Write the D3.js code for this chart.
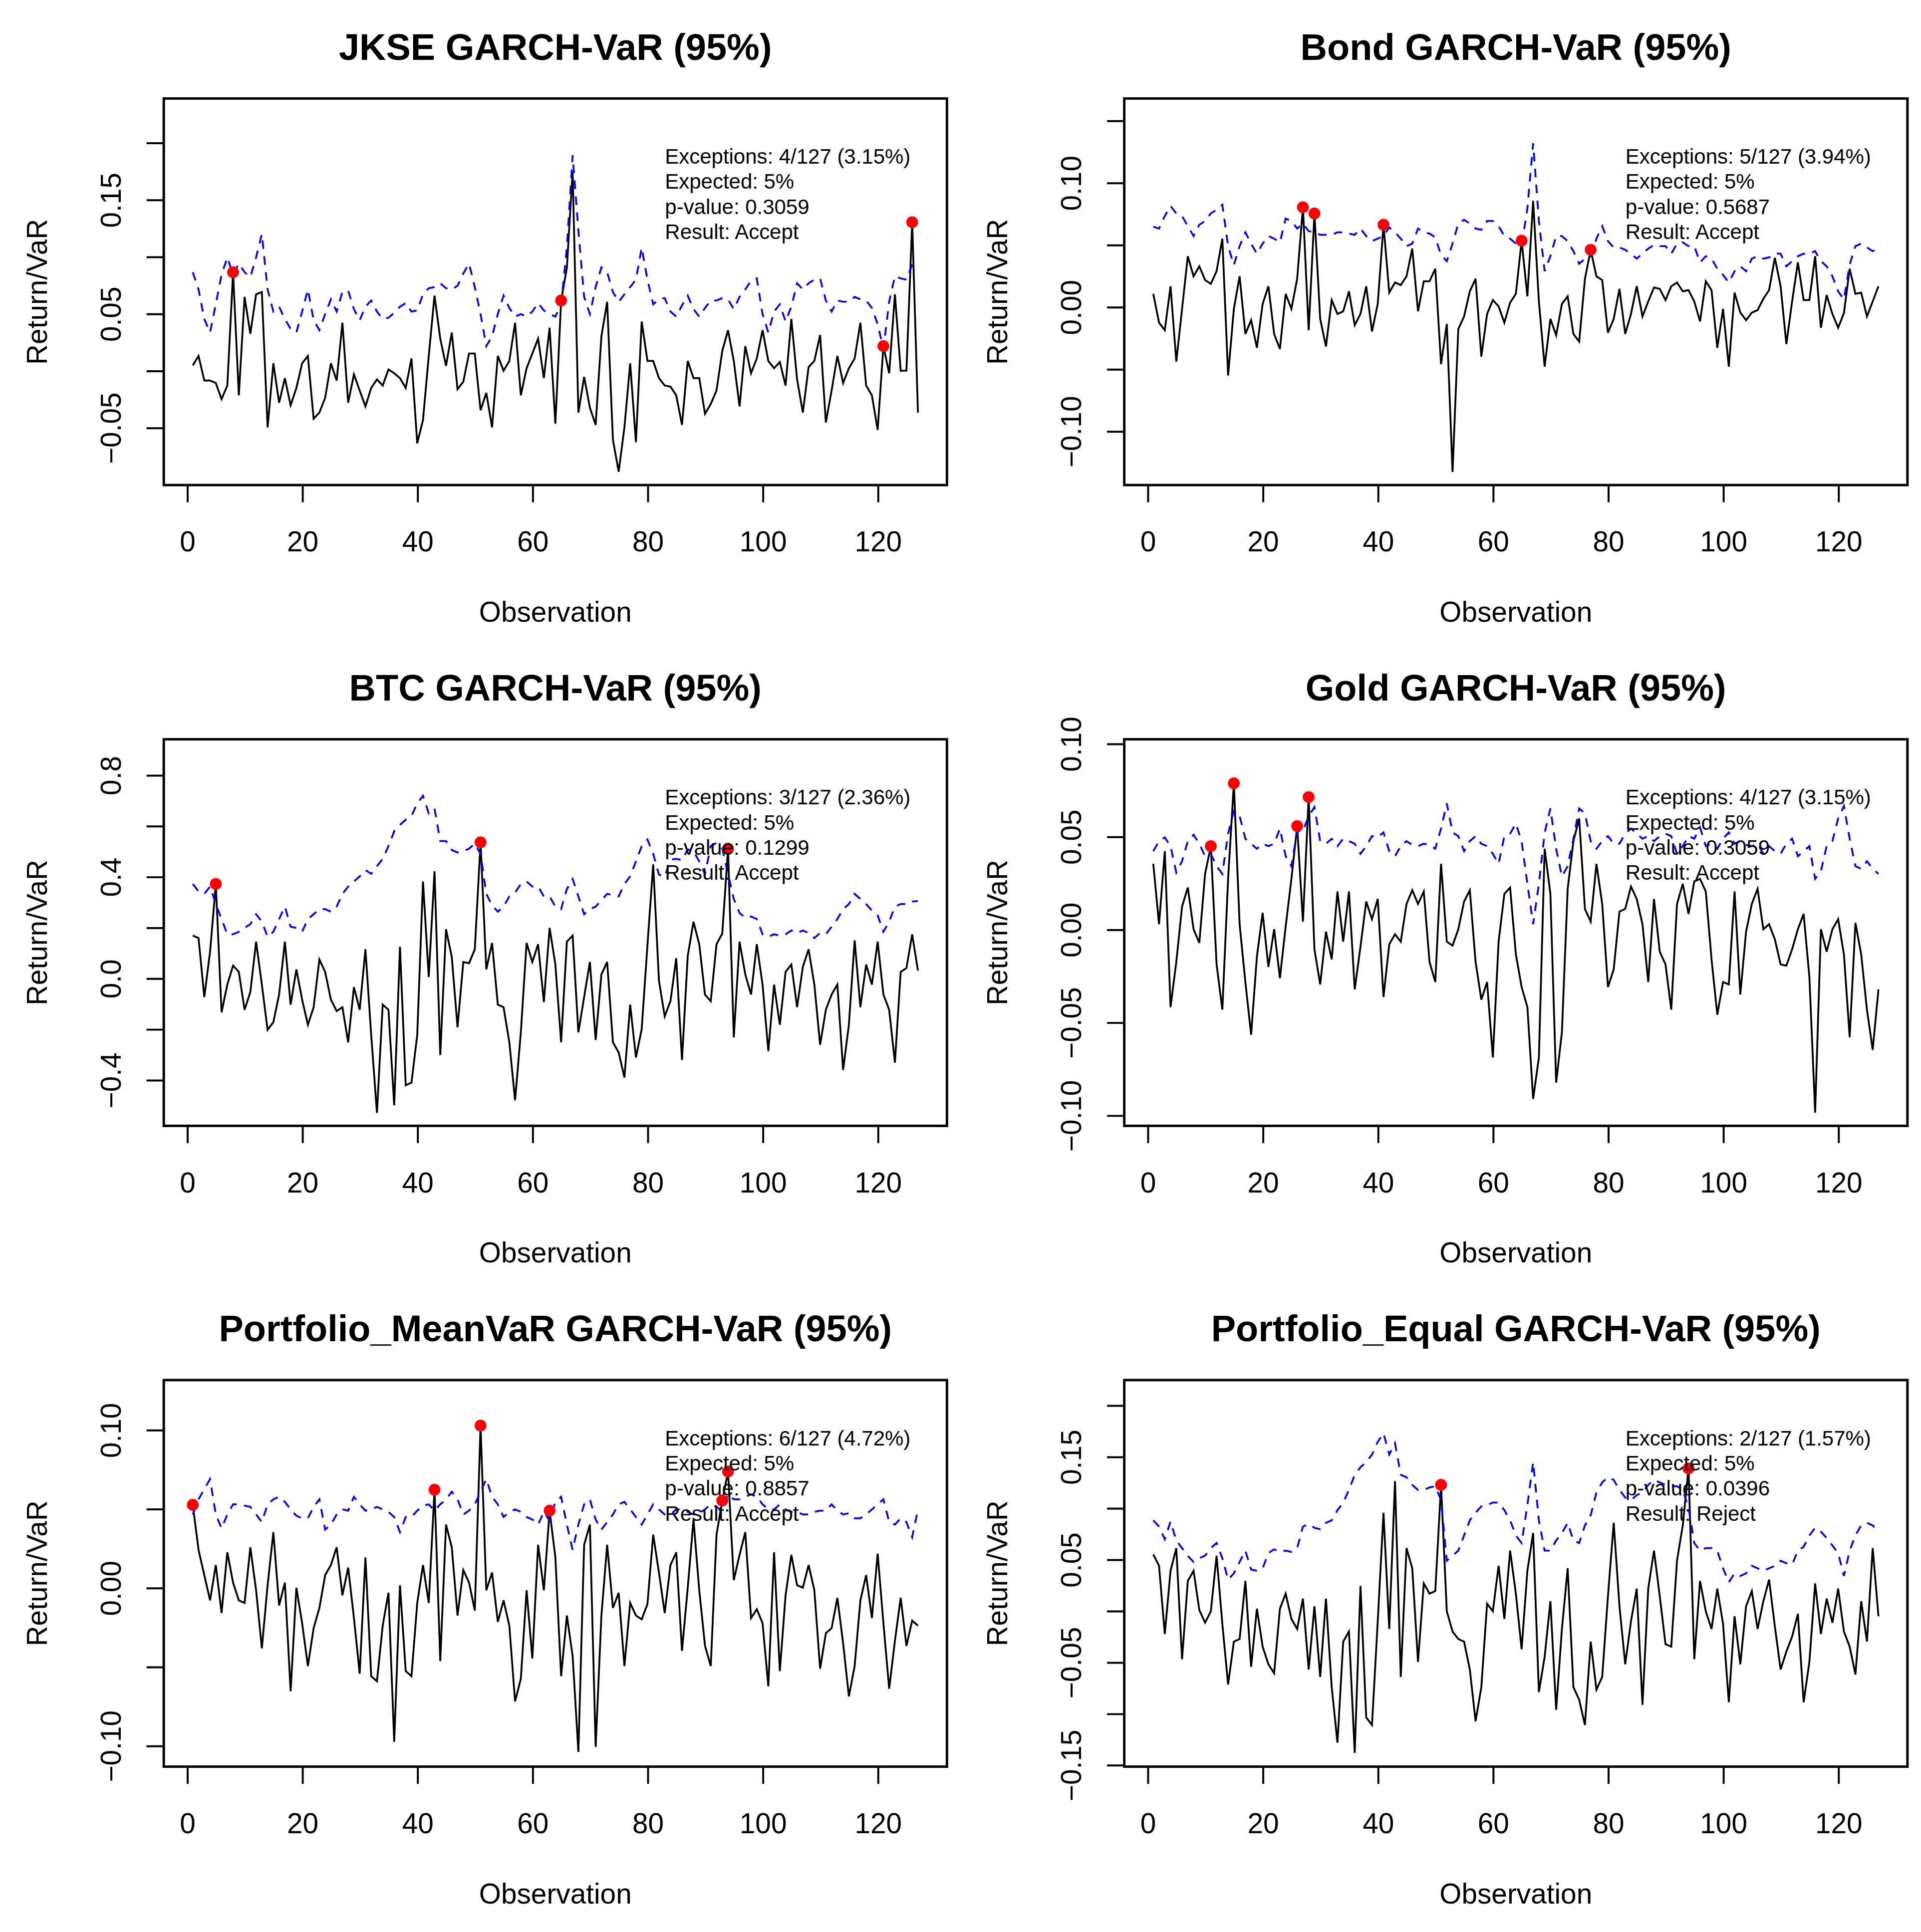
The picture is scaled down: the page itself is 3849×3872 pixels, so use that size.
<!DOCTYPE html>
<html>
<head>
<meta charset="utf-8">
<script src="https://cdn.jsdelivr.net/npm/d3@7"></script>
<style>
body{margin:0;background:#fff;}
</style>
</head>
<body>
<svg id="chart"></svg>
<script>
const FONT='"Liberation Sans", Arial, sans-serif';

// observation index (x axis)
let obs=d3.range(1,128);
let xTicks=[0,20,40,60,80,100,120];

// ---- JKSE ----
let jkseRet=[0.0046,0.0129,-0.0087,-0.0087,-0.0109,-0.025,-0.0131,0.0863,-0.0217,0.0647,
0.0323,0.0669,0.069,-0.0498,0.0064,-0.0282,-0.0066,-0.0304,-0.0152,0.0064,
0.0129,-0.0422,-0.0368,-0.0239,0.0064,-0.0087,0.042,-0.0282,-0.0033,-0.0174,
-0.0314,-0.0152,-0.0077,-0.0131,0.001,-0.0023,-0.0066,-0.0152,0.0107,-0.0638,
-0.0433,0.0129,0.0658,0.028,0.0042,0.0334,-0.0163,-0.0098,0.015,0.015,
-0.0347,-0.0195,-0.0498,0.0129,-0.0001,0.0085,0.042,-0.0217,0.0021,0.015,
0.028,-0.0066,0.0377,-0.0466,0.0615,0.09,0.1749,-0.0368,-0.0055,-0.0325,
-0.0476,0.0301,0.0604,-0.0606,-0.0887,-0.0498,0.0064,-0.0628,0.0431,0.0085,
0.0085,-0.0066,-0.0131,-0.0141,-0.0217,-0.0476,0.0085,-0.0066,-0.0066,-0.0379,
-0.0293,-0.0174,0.0172,0.0355,0.0085,-0.0314,0.0215,-0.0023,0.0107,0.0355,
0.0085,0.0021,0.0075,-0.0131,0.0453,-0.0077,-0.0368,0.0031,0.0085,0.0312,
-0.0455,-0.0174,0.0129,-0.0109,0.0021,0.0107,0.042,-0.0131,-0.0217,-0.052,
0.0215,-0.0023,0.0669,-0.0001,0.0,0.1302,-0.0368];
let jkseVar=[0.0863,0.0712,0.0453,0.0334,0.0582,0.0842,0.0993,0.084,0.0939,0.0863,
0.082,0.0993,0.1198,0.0712,0.0518,0.0561,0.0453,0.0366,0.0334,0.0518,
0.0712,0.0442,0.0355,0.0496,0.0625,0.0518,0.069,0.0701,0.0539,0.0442,
0.0561,0.0615,0.0518,0.0453,0.0464,0.0507,0.0561,0.0593,0.0518,0.0528,
0.0669,0.0723,0.0733,0.0766,0.0723,0.0712,0.0744,0.0852,0.0939,0.0733,
0.0496,0.0215,0.0301,0.0496,0.0658,0.055,0.0474,0.0496,0.0474,0.0518,
0.0593,0.0528,0.0496,0.0474,0.058,0.1079,0.1889,0.1231,0.0647,0.0496,
0.0733,0.0906,0.0863,0.069,0.0604,0.0669,0.0733,0.0798,0.1079,0.0798,
0.0582,0.0625,0.0636,0.0518,0.0474,0.0572,0.0658,0.0539,0.0474,0.055,
0.0615,0.0615,0.0636,0.0625,0.0539,0.0647,0.0712,0.0788,0.0809,0.0496,
0.0334,0.0518,0.0582,0.0431,0.0561,0.0766,0.0712,0.0766,0.0798,0.0809,
0.0615,0.0518,0.0615,0.0604,0.0604,0.0647,0.0625,0.0615,0.055,0.0409,
0.019,0.0604,0.083,0.0809,0.0798,0.0928,0.0939];
let jkseExc=[8,65,121,126];
let jkseStats=["Exceptions: 4/127 (3.15%)","Expected: 5%","p-value: 0.3059","Result: Accept"];

// ---- Bond ----
let bondRet=[0.0105,-0.0127,-0.0188,0.0166,-0.044,-0.0016,0.0408,0.0246,0.0327,0.0216,
0.0186,0.0287,0.0549,-0.0552,-0.0016,0.0246,-0.0218,-0.0107,-0.0329,0.0024,
0.0166,-0.0218,-0.0339,0.0105,-0.0016,0.0226,0.0802,-0.0188,0.0752,-0.0097,
-0.0319,0.0055,-0.0057,-0.0036,0.0125,-0.0147,-0.0057,0.0166,-0.0198,0.0024,
0.0661,0.0115,0.0196,0.0176,0.0246,0.0469,-0.0036,0.0206,0.0206,0.0307,
-0.0461,-0.0137,-0.1329,-0.0178,-0.0077,0.0125,0.0226,-0.04,-0.0057,0.0055,
0.0004,-0.0127,0.0034,0.0105,0.0533,0.0085,0.0853,0.0044,-0.0481,-0.0097,
-0.0228,0.0024,0.0085,-0.0218,-0.0279,0.0226,0.0459,0.0246,0.0216,-0.0208,
-0.0097,0.0145,-0.0218,-0.0057,0.0166,-0.0077,0.0044,0.0156,0.0145,0.0055,
0.0166,0.0196,0.0125,0.0135,0.0044,-0.0117,0.0206,0.0135,-0.0329,-0.0016,
-0.0481,0.0115,-0.0046,-0.0107,-0.0046,-0.0026,0.0065,0.0135,0.0395,0.0166,
-0.0299,0.0044,0.0358,0.0055,0.0055,0.0408,-0.0168,0.0095,-0.0057,-0.0168,
-0.005,0.0307,0.0105,0.0115,-0.0077,0.0044,0.0166];
let bondVar=[0.0646,0.063,0.0731,0.0812,0.0752,0.0731,0.065,0.057,0.0661,0.0691,
0.0752,0.0782,0.0822,0.0489,0.0337,0.0489,0.06,0.0509,0.0428,0.0509,
0.057,0.0549,0.0519,0.0711,0.0691,0.063,0.0671,0.061,0.06,0.058,
0.058,0.058,0.06,0.06,0.059,0.058,0.063,0.057,0.0529,0.0549,
0.057,0.064,0.06,0.0549,0.0489,0.0509,0.063,0.06,0.059,0.056,
0.0418,0.0368,0.0509,0.0671,0.0701,0.0671,0.063,0.062,0.0691,0.0691,
0.065,0.057,0.0549,0.0509,0.0489,0.0792,0.1317,0.0691,0.0287,0.0408,
0.057,0.057,0.0529,0.0448,0.0347,0.0388,0.0408,0.0549,0.065,0.0529,
0.0479,0.0479,0.0459,0.0428,0.0388,0.0428,0.0469,0.0499,0.0489,0.0489,
0.0428,0.0509,0.0519,0.0489,0.0489,0.0358,0.0408,0.0388,0.0307,0.0257,
0.0196,0.0287,0.0327,0.0287,0.0388,0.0408,0.0388,0.0398,0.043,0.0428,
0.0327,0.0368,0.0408,0.0428,0.0428,0.0448,0.0368,0.0327,0.0246,0.0125,
0.006,0.034,0.0489,0.0509,0.0479,0.0448,0.0469];
let bondExc=[27,29,41,65,77];
let bondStats=["Exceptions: 5/127 (3.94%)","Expected: 5%","p-value: 0.5687","Result: Accept"];

// ---- BTC ----
let btcRet=[0.168,0.158,-0.074,0.104,0.371,-0.134,-0.025,0.050,0.025,-0.124,
-0.054,0.144,-0.025,-0.203,-0.173,-0.064,0.144,-0.104,0.035,-0.084,
-0.183,-0.114,0.074,0.025,-0.084,-0.129,-0.114,-0.252,-0.035,-0.124,
0.114,-0.223,-0.530,-0.104,-0.124,-0.500,0.124,-0.421,-0.411,-0.223,
0.381,0.005,0.421,-0.302,0.193,0.084,-0.193,0.064,0.059,0.114,
0.535,0.035,0.139,-0.104,-0.114,-0.252,-0.480,-0.213,0.139,0.064,
0.134,-0.094,0.198,0.054,-0.252,0.144,0.168,-0.213,-0.074,0.064,
-0.243,0.015,0.064,-0.252,-0.292,-0.391,-0.104,-0.312,-0.200,0.130,
0.448,-0.010,-0.150,-0.090,0.079,-0.322,0.088,0.222,0.134,-0.065,
-0.090,0.134,0.176,0.510,-0.233,0.144,0.015,-0.064,0.134,-0.025,
-0.287,-0.025,-0.183,0.025,0.054,-0.114,0.045,0.114,-0.025,-0.262,
-0.124,-0.064,-0.025,-0.361,-0.183,0.149,-0.114,0.054,-0.025,0.144,
-0.064,-0.124,-0.332,0.025,0.040,0.173,0.030];
let btcVar=[0.371,0.342,0.332,0.361,0.292,0.233,0.173,0.173,0.183,0.198,
0.213,0.252,0.223,0.163,0.183,0.233,0.282,0.203,0.198,0.183,
0.233,0.252,0.272,0.272,0.262,0.282,0.332,0.361,0.381,0.401,
0.426,0.411,0.441,0.470,0.520,0.579,0.604,0.624,0.639,0.688,
0.718,0.649,0.668,0.540,0.540,0.505,0.495,0.500,0.510,0.530,
0.490,0.332,0.287,0.262,0.282,0.322,0.337,0.371,0.381,0.361,
0.361,0.322,0.322,0.282,0.272,0.351,0.391,0.322,0.252,0.272,
0.282,0.307,0.332,0.327,0.322,0.371,0.401,0.460,0.520,0.546,
0.490,0.408,0.400,0.467,0.470,0.465,0.507,0.500,0.460,0.410,
0.520,0.533,0.510,0.411,0.312,0.257,0.238,0.243,0.233,0.173,
0.163,0.173,0.168,0.173,0.188,0.178,0.188,0.178,0.158,0.178,
0.173,0.203,0.233,0.272,0.292,0.332,0.312,0.292,0.267,0.248,
0.183,0.223,0.282,0.292,0.292,0.302,0.304];
let btcExc=[5,51,94];
let btcStats=["Exceptions: 3/127 (2.36%)","Expected: 5%","p-value: 0.1299","Result: Accept"];

// ---- Gold ----
let goldRet=[0.0353,0.0028,0.0421,-0.0418,-0.0175,0.0123,0.0225,0.0001,-0.0073,0.0299,
0.0448,-0.0188,-0.0432,0.0272,0.0786,0.0028,-0.0283,-0.0567,-0.0147,0.0089,
-0.0202,0.0001,-0.0262,0.0015,0.0272,0.0556,0.0042,0.0712,-0.0107,-0.0296,
-0.0012,-0.0161,0.0204,-0.0066,0.0204,-0.0323,-0.0093,0.015,0.0055,0.0164,
-0.0364,-0.008,-0.0026,-0.0066,0.0137,0.0211,0.0137,0.0204,-0.0175,-0.0283,
0.0353,-0.0066,-0.0087,0.0001,0.015,0.0211,-0.0175,-0.0378,-0.0283,-0.0689,
-0.0066,0.0191,0.0225,-0.0134,-0.031,-0.0418,-0.0912,-0.0689,0.0434,0.0191,
-0.0824,-0.0553,0.0218,0.0475,0.0597,0.011,0.0042,0.0353,0.0137,-0.031,
-0.0215,0.0096,0.011,0.0231,0.0164,0.0028,-0.0283,0.0164,-0.012,-0.0188,
-0.0432,0.0137,0.0245,0.0083,0.0258,0.0272,0.0204,-0.0161,-0.0459,-0.0283,
-0.0296,0.0204,-0.035,-0.0012,0.0137,0.0218,0.0001,0.0028,-0.0053,-0.0188,
-0.0195,-0.0107,0.0001,0.0083,-0.0256,-0.0986,0.0001,-0.012,0.0001,0.0055,
-0.0134,-0.058,0.0035,-0.0134,-0.0432,-0.0648,-0.0323];
let goldVar=[0.0421,0.0475,0.0495,0.0448,0.0306,0.0367,0.0475,0.0509,0.0461,0.0394,
0.0407,0.034,0.0299,0.0515,0.0637,0.061,0.0488,0.0461,0.0434,0.0461,
0.0448,0.0461,0.0543,0.0394,0.034,0.0529,0.0529,0.061,0.0658,0.0475,
0.0461,0.0488,0.0448,0.0488,0.0475,0.0461,0.0407,0.0448,0.0502,0.0495,
0.0522,0.0421,0.0394,0.0448,0.0475,0.0455,0.0448,0.0461,0.0455,0.0434,
0.0543,0.0678,0.0522,0.0502,0.0421,0.0475,0.0502,0.0461,0.0448,0.0407,
0.0353,0.0502,0.0515,0.057,0.0475,0.0245,0.0028,0.0245,0.052,0.0651,
0.0434,0.0285,0.034,0.0488,0.0651,0.0624,0.0475,0.0434,0.0475,0.0502,
0.0461,0.0461,0.0515,0.0543,0.0515,0.0488,0.0502,0.0475,0.0502,0.0515,
0.0502,0.0407,0.0448,0.0502,0.0488,0.0549,0.0448,0.0461,0.0434,0.0488,
0.0522,0.0461,0.0475,0.0455,0.0448,0.0461,0.0407,0.0448,0.0421,0.0407,
0.0461,0.0488,0.0394,0.0421,0.0448,0.0272,0.0313,0.0448,0.0475,0.0597,
0.0664,0.0488,0.034,0.0326,0.0367,0.0326,0.0299];
let goldExc=[11,15,26,28];
let goldStats=["Exceptions: 4/127 (3.15%)","Expected: 5%","p-value: 0.3059","Result: Accept"];

// ---- Portfolio_MeanVaR ----
let pmvRet=[0.0525,0.024,0.008,-0.008,0.0144,-0.016,0.0224,0.0032,-0.008,-0.0096,
0.0256,-0.0016,-0.0384,0.0016,0.0352,-0.0112,0.0032,-0.0656,0.0,-0.0224,
-0.0496,-0.0256,-0.0128,0.008,0.0144,0.0256,-0.0048,0.0128,-0.0192,-0.0544,
0.0192,-0.056,-0.0592,-0.024,-0.0032,-0.0976,0.0016,-0.0528,-0.056,-0.0096,
0.0144,-0.0096,0.0621,-0.0464,0.04,0.0256,-0.0176,0.0112,0.0032,-0.0144,
0.1027,-0.0016,0.0096,-0.0216,-0.008,-0.024,-0.072,-0.0576,-0.0016,-0.0448,
0.0272,-0.0016,0.0488,0.0192,-0.056,-0.0176,-0.0432,-0.104,0.0272,0.04,
-0.1008,-0.0176,0.0272,-0.0128,-0.0032,-0.0496,-0.0096,-0.0176,-0.02,-0.0104,
0.0336,0.0096,-0.016,0.0144,0.0224,-0.04,0.0,0.0432,-0.0016,-0.0368,
-0.0496,0.0336,0.0552,0.0736,0.0048,0.0208,0.0352,-0.0192,-0.0136,-0.0224,
-0.0624,0.0224,-0.0528,-0.0048,0.0208,0.0016,0.0,0.0144,-0.0016,-0.0512,
-0.0288,-0.0256,-0.0064,-0.0352,-0.0688,-0.0496,-0.008,0.008,-0.0192,0.0216,
-0.0224,-0.064,-0.0336,-0.0064,-0.0368,-0.0208,-0.024];
let pmvVar=[0.0464,0.056,0.0624,0.0688,0.0464,0.0376,0.0464,0.0528,0.0528,0.052,
0.0512,0.0464,0.0416,0.0528,0.056,0.0576,0.0544,0.0496,0.0456,0.044,
0.044,0.0512,0.056,0.0368,0.04,0.0464,0.0496,0.0488,0.0576,0.0528,
0.0488,0.0496,0.0512,0.0496,0.048,0.0448,0.0352,0.0448,0.0448,0.0488,
0.052,0.0528,0.0488,0.0528,0.056,0.0608,0.056,0.0464,0.0488,0.0528,
0.0608,0.0688,0.0576,0.0528,0.0448,0.048,0.0496,0.048,0.0448,0.0432,
0.04,0.048,0.0424,0.0544,0.0576,0.04,0.024,0.04,0.0528,0.056,
0.0432,0.0368,0.0416,0.0464,0.0528,0.0544,0.0496,0.0448,0.04,0.0464,
0.0528,0.0496,0.0464,0.0464,0.0496,0.0496,0.048,0.0464,0.0472,0.0496,
0.0528,0.0512,0.0488,0.0592,0.056,0.056,0.0576,0.0592,0.0576,0.0528,
0.0496,0.0496,0.0528,0.0496,0.048,0.048,0.0464,0.0464,0.048,0.0488,
0.0488,0.0528,0.0488,0.0464,0.0472,0.044,0.044,0.0464,0.0496,0.0528,
0.056,0.0416,0.04,0.044,0.0416,0.032,0.0496];
let pmvExc=[1,43,51,63,93,94];
let pmvStats=["Exceptions: 6/127 (4.72%)","Expected: 5%","p-value: 0.8857","Result: Accept"];

// ---- Portfolio_Equal ----
let peqRet=[0.0548,0.0438,-0.0226,0.0389,0.061,-0.0472,0.029,0.0389,0.0007,-0.0116,
-0.0005,0.0536,-0.0128,-0.0718,-0.03,-0.0275,0.029,-0.0546,0.002,-0.0349,
-0.0521,-0.0607,0.002,0.0167,-0.0079,-0.0177,0.0118,-0.0571,0.0044,-0.0644,
0.0118,-0.0743,-0.1284,-0.03,-0.0202,-0.1382,0.0241,-0.1038,-0.1112,-0.0103,
0.0954,-0.0177,0.1262,-0.0644,0.061,0.0413,-0.0497,0.0266,0.0167,0.0192,
0.1225,-0.0005,-0.0202,-0.0275,-0.03,-0.0571,-0.1075,-0.0743,0.0069,-0.0005,
0.0438,-0.0079,0.0585,0.0167,-0.0374,0.0389,0.0757,-0.0792,-0.0448,0.0093,
-0.0964,-0.0177,0.0413,-0.0743,-0.0866,-0.1112,-0.03,-0.0767,-0.0644,0.0143,
0.0856,0.0044,-0.0521,-0.0103,0.0216,-0.0915,0.0216,0.0585,0.0143,-0.0325,
-0.0349,0.0487,0.0831,0.1385,-0.0472,0.029,-0.0005,-0.0177,0.0216,-0.0128,
-0.089,-0.0054,-0.0521,0.0044,0.0192,-0.0177,0.0093,0.0303,-0.0152,-0.0571,
-0.0398,-0.0251,-0.003,-0.089,-0.0497,0.0266,-0.0226,0.0118,-0.0116,0.0216,
-0.0202,-0.0349,-0.062,0.0093,-0.03,0.061,-0.0054];
let peqVar=[0.088,0.0819,0.0696,0.0868,0.0684,0.061,0.0536,0.0475,0.0512,0.0536,
0.061,0.0659,0.0512,0.0303,0.0364,0.0475,0.0585,0.0401,0.0389,0.0413,
0.0561,0.0598,0.0573,0.0585,0.0573,0.061,0.0819,0.0844,0.0807,0.0794,
0.0856,0.088,0.0979,0.1053,0.1176,0.1323,0.1397,0.1446,0.152,0.1643,
0.1729,0.152,0.1631,0.1323,0.1299,0.1225,0.1176,0.1176,0.12,0.1212,
0.1077,0.0487,0.0536,0.0585,0.0733,0.088,0.0954,0.1016,0.1028,0.1053,
0.1053,0.0979,0.088,0.0733,0.0659,0.1028,0.1446,0.088,0.0585,0.0585,
0.0684,0.0757,0.0856,0.0684,0.0659,0.0831,0.093,0.1151,0.1249,0.1299,
0.1274,0.1176,0.1102,0.1077,0.1126,0.1151,0.1225,0.1274,0.1249,0.1225,
0.1212,0.1212,0.1176,0.1003,0.0659,0.0585,0.061,0.061,0.0585,0.0413,
0.0278,0.0364,0.0339,0.0364,0.0438,0.0413,0.0389,0.0413,0.0438,0.0487,
0.0462,0.045,0.0585,0.0622,0.0733,0.0807,0.077,0.0708,0.0635,0.0561,
0.0339,0.0585,0.0733,0.0831,0.0856,0.0831,0.077];
let peqExc=[51,94];
let peqStats=["Exceptions: 2/127 (1.57%)","Expected: 5%","p-value: 0.0396","Result: Reject"];

let panels=[
  {title:"JKSE GARCH-VaR (95%)",ret:jkseRet,vr:jkseVar,exc:jkseExc,stats:jkseStats,col:0,row:0,
   yDom:[-0.1004,0.2387],yTicks:[-0.05,0,0.05,0.1,0.15,0.2],yLab:[-0.05,0.05,0.15],fmt:".2f"},
  {title:"Bond GARCH-VaR (95%)",ret:bondRet,vr:bondVar,exc:bondExc,stats:bondStats,col:1,row:0,
   yDom:[-0.1434,0.1677],yTicks:[-0.1,-0.05,0,0.05,0.1,0.15],yLab:[-0.1,0,0.1],fmt:".2f"},
  {title:"BTC GARCH-VaR (95%)",ret:btcRet,vr:btcVar,exc:btcExc,stats:btcStats,col:0,row:1,
   yDom:[-0.581,0.9406],yTicks:[-0.4,-0.2,0,0.2,0.4,0.6,0.8],yLab:[-0.4,0,0.4,0.8],fmt:".1f"},
  {title:"Gold GARCH-VaR (95%)",ret:goldRet,vr:goldVar,exc:goldExc,stats:goldStats,col:1,row:1,
   yDom:[-0.1057,0.1023],yTicks:[-0.1,-0.05,0,0.05,0.1],yLab:[-0.1,-0.05,0,0.05,0.1],fmt:".2f"},
  {title:"Portfolio_MeanVaR GARCH-VaR (95%)",ret:pmvRet,vr:pmvVar,exc:pmvExc,stats:pmvStats,col:0,row:2,
   yDom:[-0.1133,0.1315],yTicks:[-0.1,-0.05,0,0.05,0.1],yLab:[-0.1,0,0.1],fmt:".2f"},
  {title:"Portfolio_Equal GARCH-VaR (95%)",ret:peqRet,vr:peqVar,exc:peqExc,stats:peqStats,col:1,row:2,
   yDom:[-0.1517,0.2245],yTicks:[-0.15,-0.1,-0.05,0,0.05,0.1,0.15,0.2],yLab:[-0.15,-0.05,0.05,0.15],fmt:".2f"}
];

let svg=d3.select("#chart")
  .attr("width",3849)
  .attr("height",3872)
  .attr("viewBox","0 0 1560 1569.3");

svg.append("rect")
  .attr("width",1560)
  .attr("height",1569.3)
  .attr("fill","#fff");

/**
 * @function
 * @description draw one GARCH-VaR panel (returns, VaR line, exceptions, stats)
 */
function drawPanel(p){
  let ox=p.col*780, oy=p.row*520.5;
  let left=133, right=769, top=80, bottom=394;
  let g=svg.append("g").attr("transform","translate("+ox+","+oy+")");

  let x=d3.scaleLinear().domain([-4.04,132.04]).range([left,right]);
  let y=d3.scaleLinear().domain(p.yDom).range([bottom,top]);
  let f=d3.format(p.fmt);

  // returns
  g.append("path")
  .datum(p.ret)
  .attr("fill","none")
  .attr("stroke","#000")
  .attr("stroke-width",1.5)
  .attr("stroke-linejoin","miter")
  .attr("d",d3.line().x(function(d,i){return x(obs[i]);}).y(function(d){return y(d);}));

  // VaR
  g.append("path")
  .datum(p.vr)
  .attr("fill","none")
  .attr("stroke","#0000FF")
  .attr("stroke-width",1.5)
  .attr("stroke-dasharray","7,6")
  .attr("d",d3.line().x(function(d,i){return x(obs[i]);}).y(function(d){return y(d);}));

  // exceptions
  g.selectAll("circle")
  .data(p.exc)
  .enter()
  .append("circle")
  .attr("r",4.8)
  .attr("fill","#FF0000")
  .attr("cx",function(d){return x(d);})
  .attr("cy",function(d){return y(p.ret[d-1]);});

  // box
  g.append("rect")
  .attr("x",left).attr("y",top)
  .attr("width",right-left).attr("height",bottom-top)
  .attr("fill","none")
  .attr("stroke","#000")
  .attr("stroke-width",2);

  // x axis
  let xa=g.append("g")
  .attr("transform","translate(0,"+bottom+")")
  .call(d3.axisBottom(x).tickValues(xTicks).tickSize(14).tickSizeOuter(0).tickFormat(d3.format("d")));
  xa.select(".domain").remove();
  xa.attr("font-size",23).attr("font-family",FONT);
  xa.selectAll("line").attr("stroke-width",1.6);
  xa.selectAll("text").attr("y",46).attr("dy","0.35em").attr("fill","#000");

  // y axis
  let ya=g.append("g")
  .attr("transform","translate("+left+",0)")
  .call(d3.axisLeft(y).tickValues(p.yTicks).tickSize(14).tickSizeOuter(0)
    .tickFormat(function(d){
      let show=p.yLab.some(function(v){return Math.abs(v-d)<1e-9;});
      return show ? f(d) : "";
    }));
  ya.select(".domain").remove();
  ya.attr("font-size",23).attr("font-family",FONT);
  ya.selectAll("line").attr("stroke-width",1.6);
  ya.selectAll("text")
  .attr("transform","rotate(-90)")
  .attr("x",0)
  .attr("y",-43)
  .attr("dy","0.35em")
  .attr("text-anchor","middle")
  .attr("fill","#000");

  // titles
  g.append("text")
  .attr("x",(left+right)/2).attr("y",38)
  .attr("dy","0.35em")
  .attr("text-anchor","middle")
  .attr("font-family",FONT)
  .attr("font-weight","bold")
  .attr("font-size",30)
  .text(p.title);

  g.append("text")
  .attr("x",(left+right)/2).attr("y",497)
  .attr("dy","0.35em")
  .attr("text-anchor","middle")
  .attr("font-family",FONT)
  .attr("font-size",23)
  .text("Observation");

  g.append("text")
  .attr("transform","translate(30,"+((top+bottom)/2)+") rotate(-90)")
  .attr("dy","0.35em")
  .attr("text-anchor","middle")
  .attr("font-family",FONT)
  .attr("font-size",23)
  .text("Return/VaR");

  // backtest stats
  g.selectAll("text.stat")
  .data(p.stats)
  .enter()
  .append("text")
  .attr("class","stat")
  .attr("x",left+407)
  .attr("y",function(d,i){return top+47+i*20.4;})
  .attr("dy","0.35em")
  .attr("font-family",FONT)
  .attr("font-size",17)
  .text(function(d){return d;});
}

panels.forEach(drawPanel);
</script>
</body>
</html>
